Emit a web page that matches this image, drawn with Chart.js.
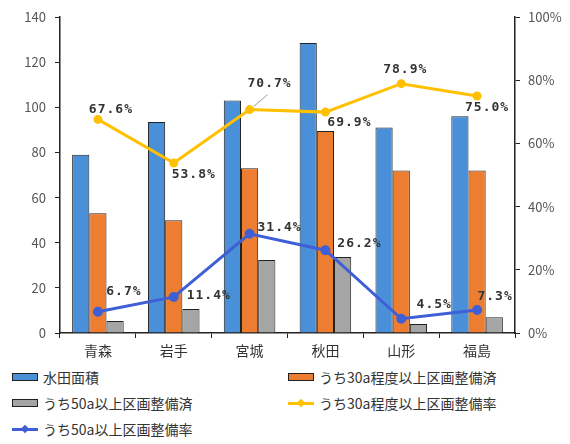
<!DOCTYPE html>
<html>
<head>
<meta charset="utf-8">
<script src="https://cdn.jsdelivr.net/npm/chart.js@4/dist/chart.umd.min.js"></script>
<style>
  body { margin: 0; background: #fff; }
  #wrap { position: relative; width: 570px; height: 444px; }
  #chart { position: absolute; left: 0; top: 0; }
  #legend { position: absolute; left: 0; top: 364px; width: 570px; font-family: "Noto Sans CJK JP", sans-serif; font-size: 14px; color: #333; }
  .item { position: absolute; height: 26px; display: flex; align-items: center; white-space: nowrap; }
  .sym { width: 26px; height: 14px; margin-right: 5px; position: relative; }
  .sym.box span { position: absolute; left: 0; top: 3px; width: 24px; height: 6px; border: 1px solid #222; }
  .sym.line span.l { position: absolute; left: 0; top: 6px; width: 26px; height: 3px; }
  .sym.line span.m { position: absolute; left: 10px; top: 4px; width: 6px; height: 6px; transform: rotate(45deg); }
</style>
</head>
<body>
<div id="wrap">
  <canvas id="chart" width="570" height="360"></canvas>
  <div id="legend"></div>
</div>
<script>
// ---- data ----
const prefectures = ['青森', '岩手', '宮城', '秋田', '山形', '福島'];
const paddyArea = [79, 93.5, 103, 128.5, 91, 96];          // 水田面積
const area30a = [53, 50, 73, 89.5, 72, 72];                 // うち30a程度以上区画整備済
const area50a = [5.3, 10.6, 32.3, 33.7, 4, 7];              // うち50a以上区画整備済
const rate30a = [67.6, 53.8, 70.7, 69.9, 78.9, 75.0];       // うち30a程度以上区画整備率 (%)
const rate50a = [6.7, 11.4, 31.4, 26.2, 4.5, 7.3];          // うち50a以上区画整備率 (%)
const leftTicks = [0, 20, 40, 60, 80, 100, 120, 140];
const rightTicks = [0, 20, 40, 60, 80, 100];

const FONT = "'Noto Sans CJK JP', sans-serif";

// label offsets from each point (px), placed by eye
const labelOffsets = {
    3: [[13, -10], [20, 12], [20, -26], [24, 11], [4, -14], [10, 12]],
    4: [[26, -20], [35, -1], [30, -6], [34, -7], [33, -14], [18, -13]]
};

const pctLabels = {
    id: 'pctLabels',
    afterDatasetsDraw(chart) {
        const ctx = chart.ctx;
        ctx.save();
        ctx.font = "bold 13px 'DejaVu Sans Mono', monospace";
        ctx.letterSpacing = '1px';
        ctx.fillStyle = '#333';
        ctx.textAlign = 'center';
        ctx.textBaseline = 'middle';
        Object.keys(labelOffsets).forEach(di => {
            const meta = chart.getDatasetMeta(di);
            const vals = chart.data.datasets[di].data;
            meta.data.forEach((pt, i) => {
                const [dx, dy] = labelOffsets[di][i];
                // leader line for the 宮城 30a label
                if (di == 3 && i === 2) {
                    ctx.strokeStyle = '#999';
                    ctx.lineWidth = 1;
                    ctx.beginPath();
                    ctx.moveTo(pt.x + 4, pt.y - 3);
                    ctx.lineTo(pt.x + 18, pt.y - 15);
                    ctx.stroke();
                }
                ctx.fillText(vals[i].toFixed(1) + '%', pt.x + dx, pt.y + dy);
            });
        });
        ctx.restore();
    }
};

const chart = new Chart(document.getElementById('chart'), {
    data: {
        labels: prefectures,
        datasets: [
            { type: 'bar', label: '水田面積', data: paddyArea, backgroundColor: '#4a90d9', borderColor: '#222', borderWidth: 1, yAxisID: 'y', order: 2 },
            { type: 'bar', label: 'うち30a程度以上区画整備済', data: area30a, backgroundColor: '#ed7d31', borderColor: '#222', borderWidth: 1, yAxisID: 'y', order: 2 },
            { type: 'bar', label: 'うち50a以上区画整備済', data: area50a, backgroundColor: '#a5a5a5', borderColor: '#222', borderWidth: 1, yAxisID: 'y', order: 2 },
            { type: 'line', label: 'うち30a程度以上区画整備率', data: rate30a, borderColor: '#ffc000', backgroundColor: '#ffc000', borderWidth: 3, pointRadius: 3, yAxisID: 'y1', order: 0 },
            { type: 'line', label: 'うち50a以上区画整備率', data: rate50a, borderColor: '#3f5fd6', backgroundColor: '#3f5fd6', borderWidth: 3, pointRadius: 3.5, yAxisID: 'y1', order: 0 }
        ]
    },
    options: {
        responsive: false,
        animation: false,
        categoryPercentage: 0.68,
        barPercentage: 1,
        layout: { padding: { top: 17, left: 0, right: 0, bottom: 0 } },
        plugins: { legend: { display: false }, tooltip: { enabled: false } },
        scales: {
            x: {
                afterFit: s => { s.height = 27; },
                border: { color: '#222', width: 1.5 },
                grid: { drawOnChartArea: false, drawTicks: true, tickLength: 5, color: '#222' },
                ticks: { color: '#333', padding: 4, font: { family: FONT, size: 14 } }
            },
            y: {
                position: 'left',
                min: 0, max: 140,
                afterFit: s => { s.width = 60; },
                afterBuildTicks: s => { s.ticks = leftTicks.map(v => ({ value: v })); },
                border: { color: '#222', width: 1.5 },
                grid: { drawOnChartArea: false, drawTicks: true, tickLength: 5, color: '#222' },
                ticks: { color: '#555', padding: 9, font: { family: FONT, size: 13 } }
            },
            y1: {
                position: 'right',
                min: 0, max: 100,
                afterFit: s => { s.width = 55; },
                afterBuildTicks: s => { s.ticks = rightTicks.map(v => ({ value: v })); },
                border: { color: '#222', width: 1.5 },
                grid: { drawOnChartArea: false, drawTicks: true, tickLength: 5, color: '#222' },
                ticks: { color: '#555', padding: 8, font: { family: FONT, size: 13 }, callback: v => v + '%' }
            }
        }
    },
    plugins: [pctLabels]
});

// HTML legend in two columns, like the original
const legendPos = [[12, 0], [288, 0], [12, 26], [288, 26], [12, 52]];
const legendEl = document.getElementById('legend');
chart.data.datasets.forEach((ds, i) => {
    const item = document.createElement('div');
    item.className = 'item';
    item.style.left = legendPos[i][0] + 'px';
    item.style.top = legendPos[i][1] + 'px';
    const sym = document.createElement('div');
    if (ds.type === 'bar') {
        sym.className = 'sym box';
        sym.innerHTML = '<span style="background:' + ds.backgroundColor + '"></span>';
    } else {
        sym.className = 'sym line';
        sym.innerHTML = '<span class="l" style="background:' + ds.borderColor + '"></span>' +
            '<span class="m" style="background:' + ds.borderColor + '"></span>';
    }
    item.appendChild(sym);
    item.appendChild(document.createTextNode(ds.label));
    legendEl.appendChild(item);
});
</script>
</body>
</html>
